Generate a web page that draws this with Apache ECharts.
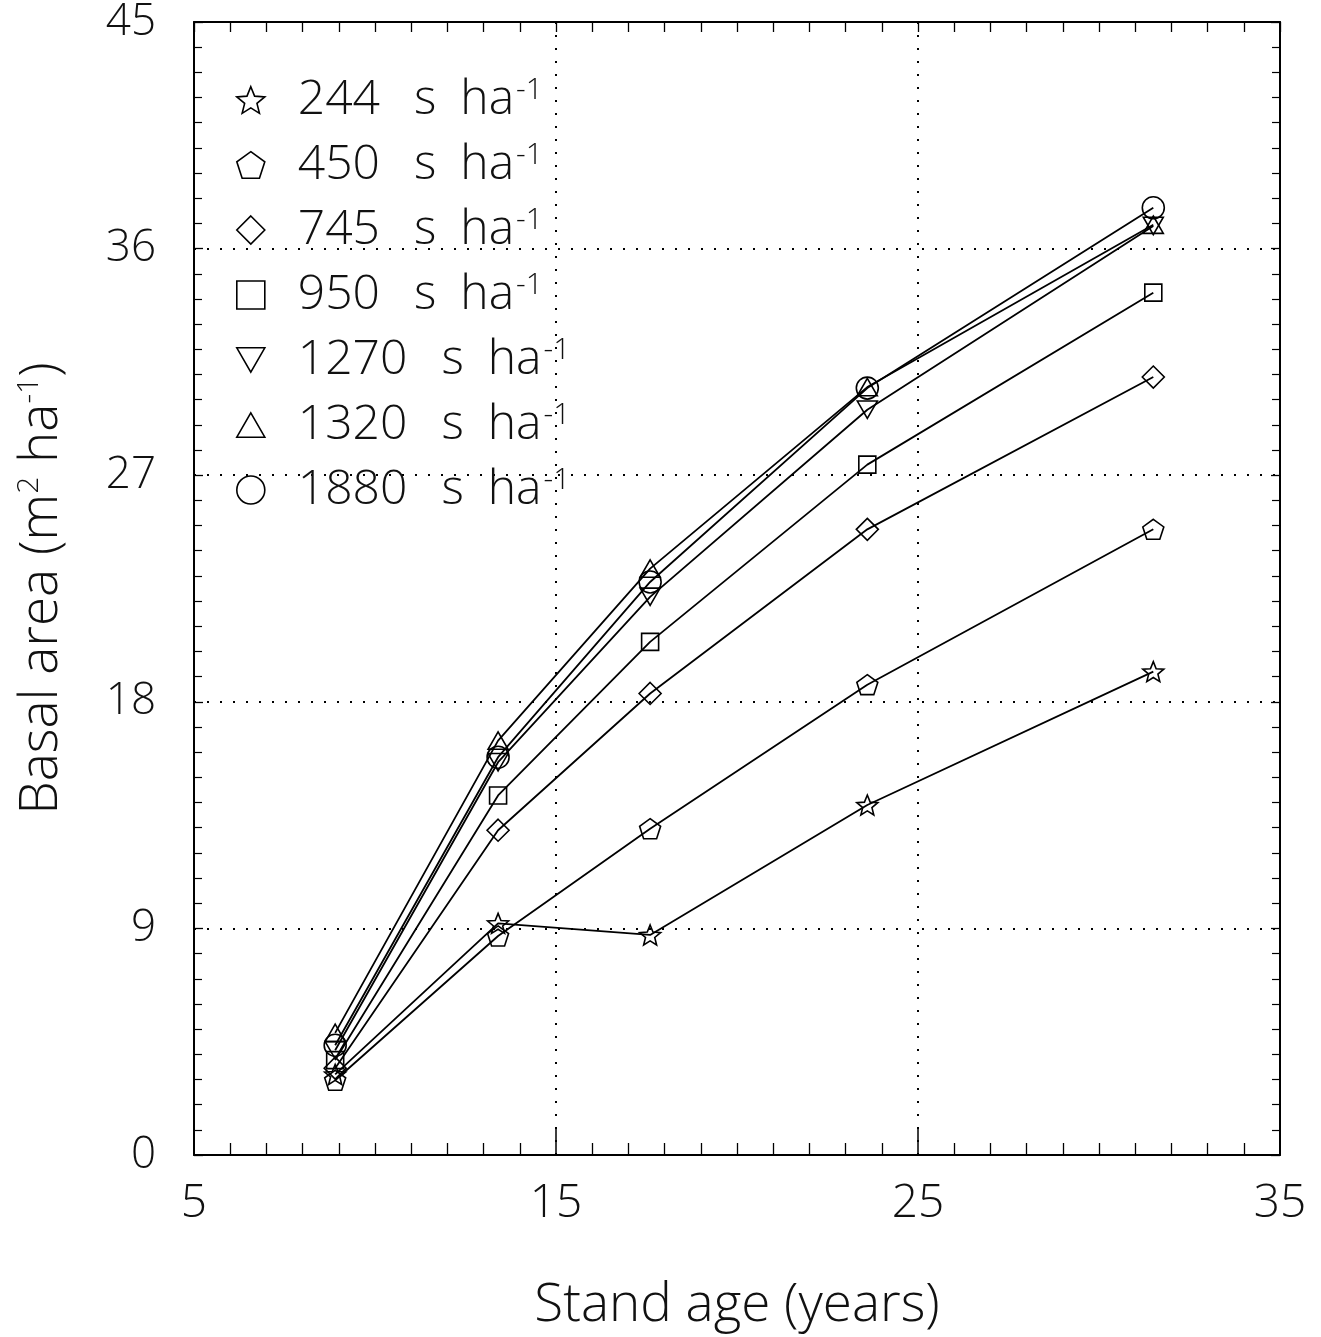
<!DOCTYPE html>
<html>
<head>
<meta charset="utf-8">
<script src="https://cdn.jsdelivr.net/npm/echarts@6/dist/echarts.min.js"></script>
<style>
  html, body { margin: 0; padding: 0; background: #fff; }
  #chart { width: 1321px; height: 1337px; }
</style>
</head>
<body>
<div id="chart"></div>
<script>
// Stand age (years) of the sampled plantations
const standAge = [8.9, 13.4, 17.6, 23.6, 31.5];

// Planting densities (stems per hectare) used as series names
const densities = ['244', '450', '745', '950', '1270', '1320', '1880'];

// Basal area (m2 ha-1) per density, one value per stand age
const ba244  = [3.2, 9.2, 8.74, 13.9, 19.2];
const ba450  = [2.97, 8.7, 12.96, 18.68, 24.85];
const ba745  = [3.45, 12.9, 18.33, 24.85, 30.9];
const ba950  = [3.77, 14.28, 20.38, 27.42, 34.25];
const ba1270 = [4.16, 15.6, 22.17, 29.6, 36.9];
const ba1320 = [4.85, 16.46, 23.29, 30.5, 36.95];
const ba1880 = [4.36, 15.8, 22.76, 30.46, 37.62];

// Axis ranges and tick steps
const xTicks = [5, 15, 25, 35];
const yTicks = [0, 9, 18, 27, 36, 45];

const FONT = '"Open Sans", "Liberation Sans", sans-serif';

// Hollow marker shapes
const STAR = 'path://M50,0L62.93,32.2L97.55,34.55L70.92,56.8L79.39,90.45L50,72L20.61,90.45L29.08,56.8L2.45,34.55L37.07,32.2Z';
const PENTAGON = 'path://M50,0L97.55,34.55L79.39,90.45L20.61,90.45L2.45,34.55Z';
const DOWN_TRI = 'path://M0,0L100,0L50,87Z';
const UP_TRI = 'path://M50,0L100,87L0,87Z';

const seriesDefs = [
  { name: densities[0], data: ba244,  symbol: STAR,      size: 21 },
  { name: densities[1], data: ba450,  symbol: PENTAGON,  size: 21 },
  { name: densities[2], data: ba745,  symbol: 'diamond', size: 22 },
  { name: densities[3], data: ba950,  symbol: 'rect',    size: 17 },
  { name: densities[4], data: ba1270, symbol: DOWN_TRI,  size: 20 },
  { name: densities[5], data: ba1320, symbol: UP_TRI,    size: 20 },
  { name: densities[6], data: ba1880, symbol: 'circle',  size: 22 }
];

const hollow = { color: 'transparent', borderColor: '#000', borderWidth: 1.6 };

const series = seriesDefs.map(s => ({
  type: 'line',
  name: s.name,
  data: standAge.map((x, i) => [x, s.data[i]]),
  symbol: s.symbol,
  symbolSize: s.size,
  symbolKeepAspect: true,
  showAllSymbol: true,
  itemStyle: hollow,
  lineStyle: { color: '#000', width: 1.8 },
  emphasis: { disabled: true },
  z: 3
}));

const xMin = xTicks[0], xMax = xTicks[xTicks.length - 1], xStep = xTicks[1] - xTicks[0];
const yMin = yTicks[0], yMax = yTicks[yTicks.length - 1], yStep = yTicks[1] - yTicks[0];

const frameLine = { show: true, onZero: false, lineStyle: { color: '#000', width: 2 } };
const dotted = { show: true, lineStyle: { color: '#000', width: 2, type: [2, 11] } };

const txt = { fontFamily: FONT, fontWeight: 300, color: '#111' };

const option = {
  animation: false,
  backgroundColor: '#fff',
  grid: { left: 194, right: 41, top: 20, bottom: 182, containLabel: false },
  legend: {
    orient: 'vertical',
    left: 236,
    top: 75,
    padding: 0,
    itemGap: 16,
    itemWidth: 28,
    itemHeight: 28,
    selectedMode: false,
    data: seriesDefs.map(s => ({ name: s.name, icon: s.symbol })),
    itemStyle: hollow,
    formatter: name => '{n|' + name + '}{u|s}{h|ha}{s|-1}',
    textStyle: {
      rich: {
        n: Object.assign({ fontSize: 48, lineHeight: 50, padding: [0, 0, 0, 28] }, txt),
        u: Object.assign({ fontSize: 48, lineHeight: 50, padding: [0, 0, 0, 34] }, txt),
        h: Object.assign({ fontSize: 48, lineHeight: 50, padding: [0, 0, 0, 24] }, txt),
        s: Object.assign({ fontSize: 30, lineHeight: 30, verticalAlign: 'top', padding: [0, 0, 0, 2] }, txt)
      }
    }
  },
  xAxis: [
    {
      type: 'value', min: xMin, max: xMax, interval: xStep, position: 'bottom',
      axisLine: frameLine,
      axisTick: { show: true, inside: true, length: 28, lineStyle: { color: '#000', width: 1.5 } },
      minorTick: { show: true, splitNumber: 10, length: 12, lineStyle: { color: '#000', width: 1.3 } },
      splitLine: dotted,
      axisLabel: Object.assign({ margin: 26, fontSize: 46 }, txt),
      name: 'Stand age (years)',
      nameLocation: 'middle',
      nameGap: 124,
      nameTextStyle: Object.assign({ fontSize: 53 }, txt)
    },
    {
      type: 'value', min: xMin, max: xMax, interval: xStep, position: 'top',
      axisLine: frameLine,
      axisTick: { show: true, inside: true, length: 10, lineStyle: { color: '#000', width: 1.3 } },
      minorTick: { show: true, splitNumber: 10, length: 10, lineStyle: { color: '#000', width: 1.3 } },
      splitLine: { show: false },
      axisLabel: { show: false }
    }
  ],
  yAxis: [
    {
      type: 'value', min: yMin, max: yMax, interval: yStep, position: 'left',
      axisLine: frameLine,
      axisTick: { show: true, inside: true, length: 9, lineStyle: { color: '#000', width: 1.3 } },
      minorTick: { show: true, splitNumber: 9, length: 8, lineStyle: { color: '#000', width: 1.2 } },
      splitLine: dotted,
      axisLabel: Object.assign({ margin: 38, fontSize: 44 }, txt),
      name: '{a|Basal area (m}{s|2}{a| ha}{s|-1}{a|)}',
      nameLocation: 'middle',
      nameGap: 124,
      nameTextStyle: {
        rich: {
          a: Object.assign({ fontSize: 53, lineHeight: 56 }, txt),
          s: Object.assign({ fontSize: 30, lineHeight: 30, verticalAlign: 'top' }, txt)
        }
      }
    },
    {
      type: 'value', min: yMin, max: yMax, interval: yStep, position: 'right',
      axisLine: frameLine,
      axisTick: { show: true, inside: true, length: 9, lineStyle: { color: '#000', width: 1.3 } },
      minorTick: { show: true, splitNumber: 9, length: 8, lineStyle: { color: '#000', width: 1.2 } },
      splitLine: { show: false },
      axisLabel: { show: false }
    }
  ],
  series: series
};

const chart = echarts.init(document.getElementById('chart'), null, { renderer: 'canvas' });
chart.setOption(option);
</script>
</body>
</html>
